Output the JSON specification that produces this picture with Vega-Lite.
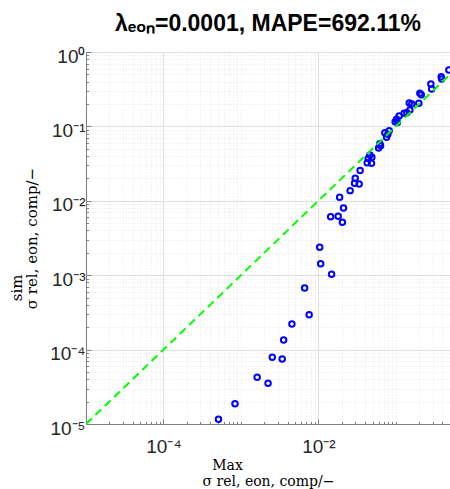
{
  "$schema": "https://vega.github.io/schema/vega-lite/v6.json",
  "autosize": {"type": "none"},
  "padding": {"left": 86, "top": 52, "right": 0, "bottom": 65},
  "width": 364,
  "height": 372,
  "background": "white",
  "config": {"view": {"stroke": "#e0e0e0"}},
  "title": {
    "text": "λₑₒₙ=0.0001, MAPE=692.11%",
    "font": "Liberation Sans",
    "fontSize": 23,
    "fontWeight": "bold",
    "color": "#000000",
    "anchor": "middle",
    "offset": 11
  },
  "datasets": {
    "pts": [
      {"x": 0.000513, "y": 0.0000116},
      {"x": 0.000838, "y": 0.0000187},
      {"x": 0.00162, "y": 0.0000426},
      {"x": 0.00224, "y": 0.0000352},
      {"x": 0.00254, "y": 0.0000788},
      {"x": 0.00341, "y": 0.0000748},
      {"x": 0.00356, "y": 0.000135},
      {"x": 0.00455, "y": 0.000221},
      {"x": 0.0076, "y": 0.000294},
      {"x": 0.00664, "y": 0.000673},
      {"x": 0.0148, "y": 0.00103},
      {"x": 0.0107, "y": 0.00143},
      {"x": 0.0104, "y": 0.00237},
      {"x": 0.0144, "y": 0.00611},
      {"x": 0.018, "y": 0.00619},
      {"x": 0.0204, "y": 0.00514},
      {"x": 0.0211, "y": 0.008},
      {"x": 0.0188, "y": 0.0112},
      {"x": 0.0257, "y": 0.0137},
      {"x": 0.0299, "y": 0.0201},
      {"x": 0.0293, "y": 0.0172},
      {"x": 0.0336, "y": 0.0168},
      {"x": 0.0346, "y": 0.0255},
      {"x": 0.0427, "y": 0.0325},
      {"x": 0.0485, "y": 0.0319},
      {"x": 0.044, "y": 0.037},
      {"x": 0.049, "y": 0.0384},
      {"x": 0.0462, "y": 0.0413},
      {"x": 0.0598, "y": 0.0513},
      {"x": 0.0635, "y": 0.055},
      {"x": 0.0622, "y": 0.0585},
      {"x": 0.0759, "y": 0.0714},
      {"x": 0.0789, "y": 0.0783},
      {"x": 0.082, "y": 0.0875},
      {"x": 0.0721, "y": 0.0823},
      {"x": 0.0979, "y": 0.1157},
      {"x": 0.1045, "y": 0.1128},
      {"x": 0.1021, "y": 0.1246},
      {"x": 0.1104, "y": 0.138},
      {"x": 0.128, "y": 0.15},
      {"x": 0.1387, "y": 0.1524},
      {"x": 0.1517, "y": 0.166},
      {"x": 0.149, "y": 0.206},
      {"x": 0.1607, "y": 0.2},
      {"x": 0.198, "y": 0.204},
      {"x": 0.204, "y": 0.279},
      {"x": 0.213, "y": 0.267},
      {"x": 0.283, "y": 0.371},
      {"x": 0.29, "y": 0.318},
      {"x": 0.385, "y": 0.466},
      {"x": 0.39, "y": 0.434},
      {"x": 0.483, "y": 0.573}
    ],
    "diag": [
      {"x": 0.00001, "y": 0.00001},
      {"x": 1, "y": 1}
    ]
  },
  "layer": [
    {
      "data": {"name": "pts"},
      "mark": {"type": "point", "shape": "circle", "filled": false, "color": "#0000ff", "strokeWidth": 2, "size": 30, "opacity": 1},
      "encoding": {
        "x": {
          "field": "x", "type": "quantitative",
          "scale": {"type": "log", "domain": [0.00001, 0.5], "nice": false},
          "axis": {
            "values": [0.00001,0.00002,0.00003,0.00004,0.00005,0.00006,0.00007,0.00008,0.00009,0.0001,0.0002,0.0003,0.0004,0.0005,0.0006,0.0007,0.0008,0.0009,0.001,0.002,0.003,0.004,0.005,0.006,0.007,0.008,0.009,0.01,0.02,0.03,0.04,0.05,0.06,0.07,0.08,0.09,0.1,0.2,0.3,0.4,0.5],
            "labelExpr": "abs(datum.value-0.0001)<1e-9 ? '10⁻⁴' : (abs(datum.value-0.01)<1e-7 ? '10⁻²' : '')",
            "grid": true,
            "gridColor": {"condition": {"test": "abs(datum.value-0.0001)<1e-9 || abs(datum.value-0.01)<1e-7", "value": "#dedede"}, "value": "#e6e6e6"},
            "gridDash": {"condition": {"test": "abs(datum.value-0.0001)<1e-9 || abs(datum.value-0.01)<1e-7", "value": []}, "value": [1, 2]},
            "gridWidth": 1,
            "tickSize": {"condition": {"test": "abs(datum.value-0.0001)<1e-9 || abs(datum.value-0.01)<1e-7", "value": -5}, "value": -2.5},
            "tickColor": "#808080",
            "domainColor": "#808080",
            "labelFont": "Liberation Sans",
            "labelFontSize": 19,
            "labelColor": "#262626",
            "labelPadding": 18,
            "labelFlush": false,
            "labelOverlap": false,
            "title": ["Max\u2800\u2800\u2800\u2800\u2800\u2800\u2800\u2800", "σ rel, eon, comp/−"],
            "titleFont": "DejaVu Serif",
            "titleFontSize": 14,
            "titleFontWeight": "normal",
            "titleColor": "#000000",
            "titleLineHeight": 16,
            "titlePadding": 0
          }
        },
        "y": {
          "field": "y", "type": "quantitative",
          "scale": {"type": "log", "domain": [0.00001, 1], "nice": false},
          "axis": {
            "values": [0.00001,0.00002,0.00003,0.00004,0.00005,0.00006,0.00007,0.00008,0.00009,0.0001,0.0002,0.0003,0.0004,0.0005,0.0006,0.0007,0.0008,0.0009,0.001,0.002,0.003,0.004,0.005,0.006,0.007,0.008,0.009,0.01,0.02,0.03,0.04,0.05,0.06,0.07,0.08,0.09,0.1,0.2,0.3,0.4,0.5,0.6,0.7,0.8,0.9,1],
            "labelExpr": "abs(datum.value-1)<1e-9 ? '10⁰' : abs(datum.value-0.1)<1e-9 ? '10⁻¹' : abs(datum.value-0.01)<1e-10 ? '10⁻²' : abs(datum.value-0.001)<1e-11 ? '10⁻³' : abs(datum.value-0.0001)<1e-12 ? '10⁻⁴' : abs(datum.value-0.00001)<1e-13 ? '10⁻⁵' : ''",
            "grid": true,
            "gridColor": {"condition": {"test": "abs(log(datum.value)/LN10 - round(log(datum.value)/LN10)) < 1e-6", "value": "#dedede"}, "value": "#e6e6e6"},
            "gridDash": {"condition": {"test": "abs(log(datum.value)/LN10 - round(log(datum.value)/LN10)) < 1e-6", "value": []}, "value": [1, 2]},
            "gridWidth": 1,
            "tickSize": {"condition": {"test": "abs(log(datum.value)/LN10 - round(log(datum.value)/LN10)) < 1e-6", "value": -5}, "value": -2.5},
            "tickColor": "#808080",
            "domainColor": "#808080",
            "labelFont": "Liberation Sans",
            "labelFontSize": 19,
            "labelColor": "#262626",
            "labelPadding": 6,
            "labelOffset": 4,
            "labelFlush": false,
            "labelOverlap": false,
            "title": ["sim\u2800\u2800\u2800\u2800\u2800\u2800\u2800\u2800\u2800", "σ rel, eon, comp/−"],
            "titleFont": "DejaVu Serif",
            "titleFontSize": 15,
            "titleFontWeight": "normal",
            "titleColor": "#000000",
            "titleLineHeight": 15,
            "titlePadding": 10
          }
        }
      }
    },
    {
      "data": {"name": "diag"},
      "mark": {"type": "line", "color": "#00ff00", "strokeWidth": 2, "strokeDash": [8, 5], "clip": true},
      "encoding": {
        "x": {"field": "x", "type": "quantitative"},
        "y": {"field": "y", "type": "quantitative"}
      }
    }
  ]
}
